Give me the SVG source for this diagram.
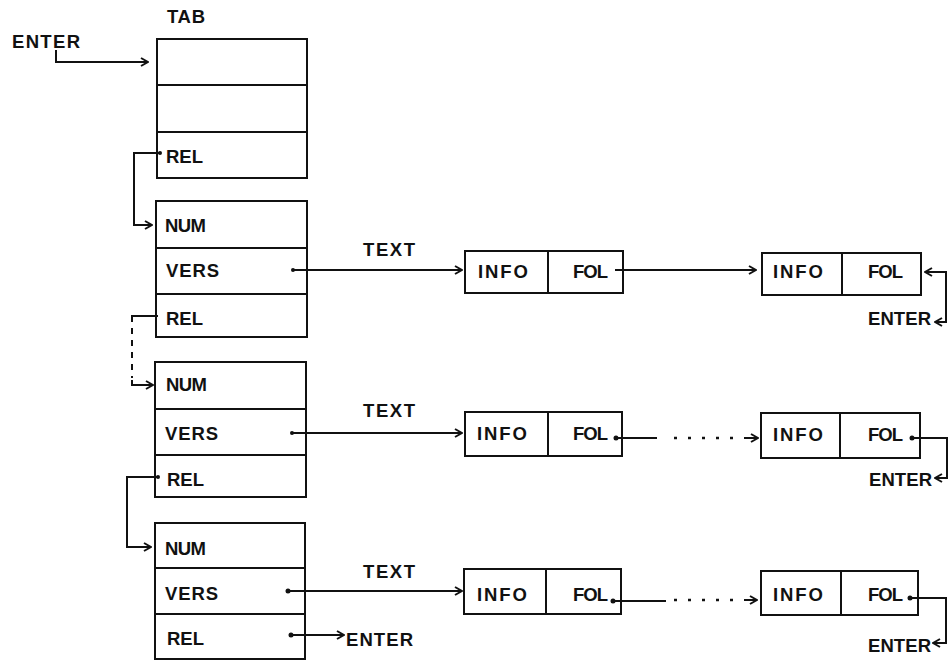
<svg xmlns="http://www.w3.org/2000/svg" width="948" height="661" viewBox="0 0 948 661">
<style>
.bx{fill:none;stroke:#111;stroke-width:2}
.ln{fill:none;stroke:#111;stroke-width:2}
.dt{fill:none;stroke:#111;stroke-width:2;stroke-dasharray:6 6}
.dh{fill:none;stroke:#111;stroke-width:2.5;stroke-dasharray:3 11}
.t{font-family:"Liberation Sans",Arial,sans-serif;font-weight:bold;font-size:18.5px;fill:#111}
.dot{fill:#111}
</style>
<defs>
<marker id="ah" viewBox="0 0 10 10" refX="9" refY="5" markerWidth="10" markerHeight="10" markerUnits="userSpaceOnUse" orient="auto-start-reverse">
<path d="M2,1 L9,5 L2,9" fill="none" stroke="#111" stroke-width="2"/>
</marker>
</defs>
<rect width="948" height="661" fill="#fff"/>

<g id="labels-top">
<text class="t" x="167" y="23" textLength="38" lengthAdjust="spacing">TAB</text>
<text class="t" x="12" y="48" textLength="68" lengthAdjust="spacing">ENTER</text>
</g>

<g id="tab">
<rect class="bx" x="157" y="39" width="150" height="139"/>
<line class="bx" x1="157" y1="85" x2="307" y2="85"/>
<line class="bx" x1="157" y1="132" x2="307" y2="132"/>
<text class="t" x="166" y="163" textLength="37" lengthAdjust="spacing">REL</text>
</g>

<g id="rec1">
<rect class="bx" x="156" y="201" width="151" height="136"/>
<line class="bx" x1="156" y1="248" x2="307" y2="248"/>
<line class="bx" x1="156" y1="294" x2="307" y2="294"/>
<text class="t" x="165" y="232" textLength="41" lengthAdjust="spacing">NUM</text>
<text class="t" x="166" y="277" textLength="53" lengthAdjust="spacing">VERS</text>
<text class="t" x="166" y="325" textLength="37" lengthAdjust="spacing">REL</text>
</g>

<g id="rec2">
<rect class="bx" x="155" y="362" width="151" height="135"/>
<line class="bx" x1="155" y1="409" x2="306" y2="409"/>
<line class="bx" x1="155" y1="455" x2="306" y2="455"/>
<text class="t" x="166" y="391" textLength="41" lengthAdjust="spacing">NUM</text>
<text class="t" x="165" y="440" textLength="53" lengthAdjust="spacing">VERS</text>
<text class="t" x="167" y="486" textLength="37" lengthAdjust="spacing">REL</text>
</g>

<g id="rec3">
<rect class="bx" x="155" y="523" width="150" height="136"/>
<line class="bx" x1="155" y1="568" x2="305" y2="568"/>
<line class="bx" x1="155" y1="614" x2="305" y2="614"/>
<text class="t" x="165" y="555" textLength="41" lengthAdjust="spacing">NUM</text>
<text class="t" x="165" y="600" textLength="53" lengthAdjust="spacing">VERS</text>
<text class="t" x="167" y="645" textLength="37" lengthAdjust="spacing">REL</text>
<text class="t" x="346" y="646" textLength="67" lengthAdjust="spacing">ENTER</text>
</g>

<g id="text-labels">
<text class="t" x="363" y="256" textLength="52" lengthAdjust="spacing">TEXT</text>
<text class="t" x="363" y="417" textLength="52" lengthAdjust="spacing">TEXT</text>
<text class="t" x="363" y="578" textLength="52" lengthAdjust="spacing">TEXT</text>
</g>

<g id="cell1a">
<rect class="bx" x="465" y="251" width="158" height="42"/>
<line class="bx" x1="548" y1="251" x2="548" y2="293"/>
<text class="t" x="478" y="278" textLength="50" lengthAdjust="spacing">INFO</text>
<text class="t" x="573" y="278" textLength="35" lengthAdjust="spacing">FOL</text>
</g>
<g id="cell1b">
<rect class="bx" x="762" y="253" width="159" height="42"/>
<line class="bx" x1="842" y1="253" x2="842" y2="295"/>
<text class="t" x="773" y="278" textLength="50" lengthAdjust="spacing">INFO</text>
<text class="t" x="868" y="278" textLength="35" lengthAdjust="spacing">FOL</text>
<text class="t" x="868" y="325" textLength="63" lengthAdjust="spacing">ENTER</text>
</g>

<g id="cell2a">
<rect class="bx" x="465" y="412" width="157" height="44"/>
<line class="bx" x1="548" y1="412" x2="548" y2="456"/>
<text class="t" x="477" y="440" textLength="50" lengthAdjust="spacing">INFO</text>
<text class="t" x="573" y="440" textLength="35" lengthAdjust="spacing">FOL</text>
</g>
<g id="cell2b">
<rect class="bx" x="761" y="413" width="159" height="45"/>
<line class="bx" x1="840" y1="413" x2="840" y2="458"/>
<text class="t" x="773" y="441" textLength="50" lengthAdjust="spacing">INFO</text>
<text class="t" x="868" y="441" textLength="35" lengthAdjust="spacing">FOL</text>
<text class="t" x="869" y="486" textLength="63" lengthAdjust="spacing">ENTER</text>
</g>

<g id="cell3a">
<rect class="bx" x="464" y="569" width="157" height="45"/>
<line class="bx" x1="546" y1="569" x2="546" y2="614"/>
<text class="t" x="477" y="601" textLength="50" lengthAdjust="spacing">INFO</text>
<text class="t" x="573" y="601" textLength="35" lengthAdjust="spacing">FOL</text>
</g>
<g id="cell3b">
<rect class="bx" x="761" y="571" width="157" height="44"/>
<line class="bx" x1="841" y1="571" x2="841" y2="615"/>
<text class="t" x="773" y="601" textLength="50" lengthAdjust="spacing">INFO</text>
<text class="t" x="868" y="601" textLength="35" lengthAdjust="spacing">FOL</text>
<text class="t" x="868" y="652" textLength="63" lengthAdjust="spacing">ENTER</text>
</g>

<g id="connectors">
<path class="ln" d="M56,50 V62 H148" marker-end="url(#ah)"/>
<circle class="dot" cx="160" cy="153" r="2"/>
<path class="ln" d="M160,153 H134 V225 H152" marker-end="url(#ah)"/>
<path class="ln" d="M158,316 H132 V322"/>
<path class="dt" d="M132,328 V378"/>
<path class="ln" d="M132,380 V385 H153" marker-end="url(#ah)"/>
<circle class="dot" cx="158" cy="477" r="2"/>
<path class="ln" d="M158,477 H127 V547 H151" marker-end="url(#ah)"/>
<circle class="dot" cx="291" cy="635" r="2.5"/>
<path class="ln" d="M291,635 H344" marker-end="url(#ah)"/>

<circle class="dot" cx="293" cy="270" r="2"/>
<path class="ln" d="M293,270 H462" marker-end="url(#ah)"/>
<circle class="dot" cx="292" cy="433" r="2"/>
<path class="ln" d="M292,433 H462" marker-end="url(#ah)"/>
<circle class="dot" cx="288" cy="591" r="2.5"/>
<path class="ln" d="M288,591 H462" marker-end="url(#ah)"/>

<path class="ln" d="M615,270 H756" marker-end="url(#ah)"/>
<circle class="dot" cx="616" cy="438" r="2.5"/>
<path class="ln" d="M616,438 H657"/>
<path class="dh" d="M674,438 H738"/>
<path class="ln" d="M744,438 H758" marker-end="url(#ah)"/>
<circle class="dot" cx="613" cy="601" r="2.5"/>
<path class="ln" d="M613,601 H666"/>
<path class="dh" d="M674,600 H738"/>
<path class="ln" d="M744,600 H757" marker-end="url(#ah)"/>

<path class="ln" d="M925,272 H946 V322 H935" marker-start="url(#ah)" marker-end="url(#ah)"/>
<circle class="dot" cx="912" cy="438" r="2.5"/>
<path class="ln" d="M912,438 H947 V478 H935" marker-end="url(#ah)"/>
<circle class="dot" cx="910" cy="598" r="2.5"/>
<path class="ln" d="M910,598 H946 V643 H933" marker-end="url(#ah)"/>
</g>
</svg>
